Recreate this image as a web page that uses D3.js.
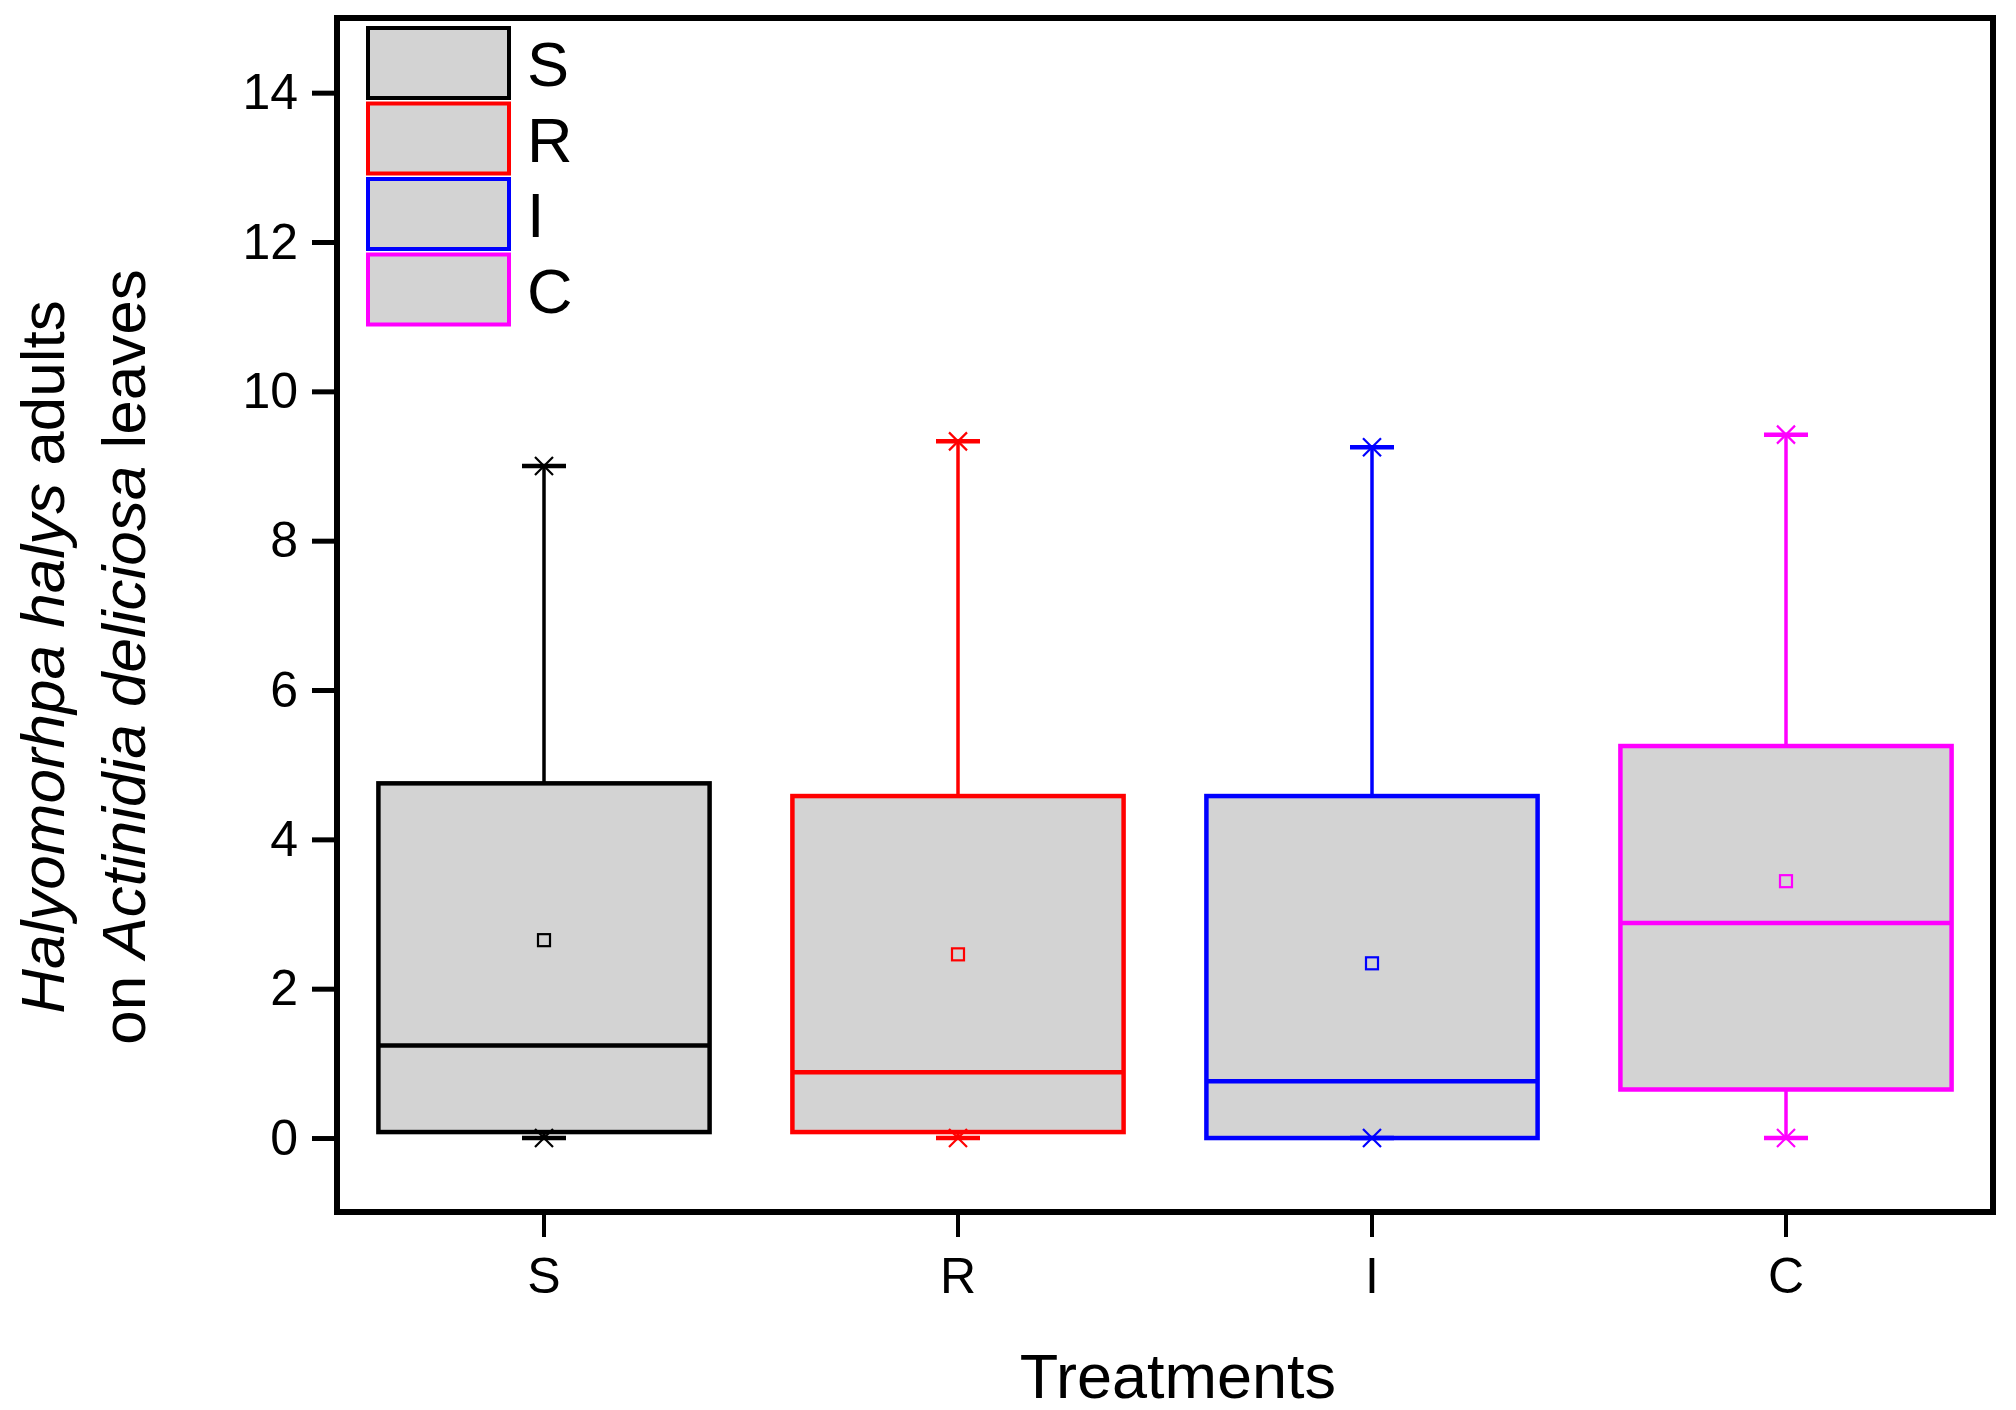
<!DOCTYPE html>
<html><head><meta charset="utf-8">
<script src="https://cdn.jsdelivr.net/npm/d3@7"></script>
<style>body{margin:0;background:#fff}svg{display:block}text{font-family:"Liberation Sans",Arial,sans-serif}</style>
</head><body><svg id="c" width="2016" height="1410"></svg>
<script>
const categories = ["S","R","I","C"];
const colors = ["#000000","#FF0000","#0000FF","#FF00FF"];
const q1 = [0.08, 0.08, 0.0, 0.65];
const median = [1.24, 0.88, 0.76, 2.88];
const q3 = [4.75, 4.58, 4.58, 5.25];
const mean = [2.65, 2.46, 2.34, 3.44];
const whiskerLow = [0, 0, 0, 0];
const whiskerHigh = [9.0, 9.33, 9.25, 9.42];
const yTicks = [0,2,4,6,8,10,12,14];

const svg = d3.select("#c");
const L=337, R=1993, T=18, B=1212;
const x = d3.scaleBand().domain(categories).range([L,R]).paddingInner(0).paddingOuter(0);
const y = d3.scaleLinear().domain([-1,15]).range([1212.7,18]);
const boxW = x.bandwidth()*0.8;
const capW = 44;
const fill = "#D3D3D3";

const g = svg.append("g");
categories.forEach((c,i)=>{
  const cx = x(c)+x.bandwidth()/2;
  const col = colors[i];
  g.append("line").attr("x1",cx).attr("x2",cx).attr("y1",y(q3[i])).attr("y2",y(whiskerHigh[i])).attr("stroke",col).attr("stroke-width",3.5);
  g.append("line").attr("x1",cx).attr("x2",cx).attr("y1",y(q1[i])).attr("y2",y(whiskerLow[i])).attr("stroke",col).attr("stroke-width",3.5);
  g.append("rect").attr("x",cx-boxW/2).attr("width",boxW).attr("y",y(q3[i])).attr("height",y(q1[i])-y(q3[i]))
    .attr("fill",fill).attr("stroke",col).attr("stroke-width",4.5);
  g.append("line").attr("x1",cx-boxW/2).attr("x2",cx+boxW/2).attr("y1",y(median[i])).attr("y2",y(median[i])).attr("stroke",col).attr("stroke-width",4.5);
  [whiskerHigh[i], whiskerLow[i]].forEach(v=>{
    const yy = y(v);
    g.append("line").attr("x1",cx-capW/2).attr("x2",cx+capW/2).attr("y1",yy).attr("y2",yy).attr("stroke",col).attr("stroke-width",4.5);
    const s=9;
    g.append("path").attr("d",`M${cx-s},${yy-s}L${cx+s},${yy+s}M${cx-s},${yy+s}L${cx+s},${yy-s}`).attr("stroke",col).attr("stroke-width",2.2).attr("fill","none");
  });
  g.append("rect").attr("x",cx-6).attr("y",y(mean[i])-6).attr("width",12).attr("height",12).attr("fill",fill).attr("stroke",col).attr("stroke-width",2.2);
});

svg.append("rect").attr("x",L).attr("y",T).attr("width",R-L).attr("height",B-T).attr("fill","none").attr("stroke","#000").attr("stroke-width",6);

const ya = svg.append("g").attr("transform",`translate(${L},0)`)
  .call(d3.axisLeft(y).tickValues(yTicks).tickSize(25).tickPadding(14).tickFormat(d3.format("d")));
ya.select(".domain").remove();
ya.selectAll(".tick line").attr("stroke","#000").attr("stroke-width",5);
ya.selectAll(".tick text").attr("font-size",50).attr("fill","#000").attr("font-family","Liberation Sans, Arial");

const xa = svg.append("g").attr("transform",`translate(0,${B})`)
  .call(d3.axisBottom(x).tickSize(25).tickPadding(20));
xa.select(".domain").remove();
xa.selectAll(".tick line").attr("stroke","#000").attr("stroke-width",4);
xa.selectAll(".tick text").attr("font-size",50).attr("fill","#000").attr("font-family","Liberation Sans, Arial");

svg.append("text").attr("x",1178).attr("y",1398).attr("text-anchor","middle").attr("font-size",63).text("Treatments");

const yt = svg.append("g").attr("transform","translate(0,657) rotate(-90)");
const t1 = yt.append("text").attr("x",0).attr("y",64).attr("text-anchor","middle").attr("font-size",62);
t1.append("tspan").attr("font-style","italic").text("Halyomorhpa halys");
t1.append("tspan").text(" adults");
const t2 = yt.append("text").attr("x",0).attr("y",145).attr("text-anchor","middle").attr("font-size",62);
t2.append("tspan").text("on ");
t2.append("tspan").attr("font-style","italic").text("Actinidia deliciosa");
t2.append("tspan").text(" leaves");

const lg = svg.append("g");
categories.forEach((c,i)=>{
  const top = 28 + i*75.5;
  lg.append("rect").attr("x",368).attr("y",top).attr("width",141).attr("height",70).attr("fill",fill).attr("stroke",colors[i]).attr("stroke-width",4);
  lg.append("text").attr("x",527).attr("y",top+35+23).attr("font-size",63).text(c);
});
</script></body></html>
